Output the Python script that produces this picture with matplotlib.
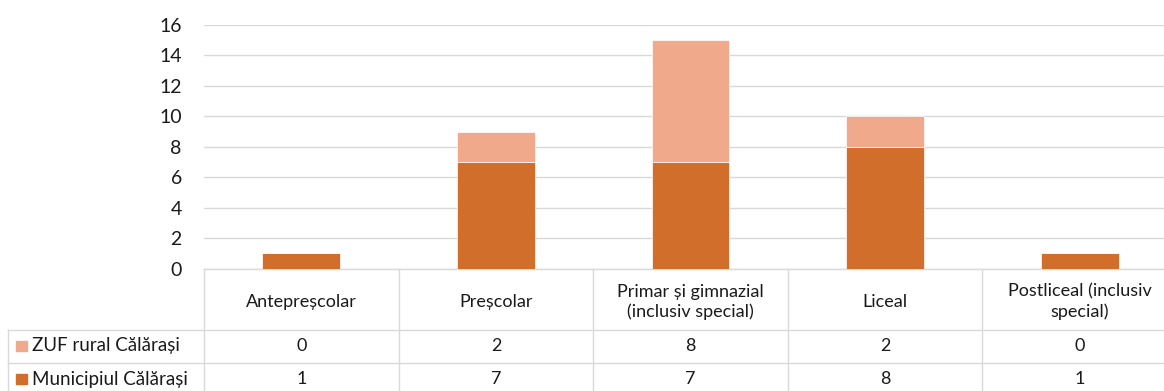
import matplotlib.pyplot as plt
from matplotlib.transforms import blended_transform_factory

plt.rcParams['font.family'] = ['Lato', 'DejaVu Sans']

categorii = ['Antepreșcolar', 'Preșcolar', 'Primar și gimnazial\n(inclusiv special)',
             'Liceal', 'Postliceal (inclusiv\nspecial)']
serii = ['ZUF rural Călărași', 'Municipiul Călărași']
zuf_rural = [0, 2, 8, 2, 0]
municipiul = [1, 7, 7, 8, 1]
yticks = [0, 2, 4, 6, 8, 10, 12, 14, 16]

c_dark = '#D26E2B'
c_light = '#F1A98B'
c_grid = '#D9D9D9'
c_text = '#1a1a1a'

W, H = 1164, 391
fig = plt.figure(figsize=(W / 100, H / 100), dpi=100)
# axes intentionally runs past the right edge (reference is cropped)
ax = fig.add_axes([204 / W, 1 - 268.5 / H, 973 / W, 243.5 / H])

x = list(range(len(categorii)))
ax.bar(x, municipiul, width=0.4, color=c_dark, edgecolor='white', linewidth=0.5, zorder=3)
ax.bar(x, zuf_rural, width=0.4, bottom=municipiul, color=c_light, edgecolor='white',
       linewidth=0.5, zorder=3)

ax.set_xlim(-0.5, len(categorii) - 0.5)
ax.set_ylim(0, 16)
ax.set_yticks(yticks)
ax.tick_params(axis='y', length=0, pad=16, labelsize=14, labelcolor=c_text)
ax.set_xticks([])
ax.grid(axis='y', color=c_grid, linewidth=1.0, zorder=0)
for s in ['top', 'right', 'left']:
    ax.spines[s].set_visible(False)
ax.spines['bottom'].set_color(c_grid)
ax.spines['bottom'].set_linewidth(1.0)

# tabel de date sub grafic (coordonate in pixeli pe y)
tab = fig.add_axes([0, 0, 1, 1], zorder=-1)
tab.set_xlim(0, W)
tab.set_ylim(H, 0)
tab.axis('off')
tr = blended_transform_factory(ax.transData, tab.transData)

row_top = [329.5, 362.5]
row_mid = [346, 379]
for i in range(len(categorii) + 1):
    tab.plot([i - 0.5, i - 0.5], [268.5, H + 5], color=c_grid, lw=1.0, transform=tr, clip_on=False)
for y in row_top:
    tab.plot([8, W + 20], [y, y], color=c_grid, lw=1.0, clip_on=False)
tab.plot([8, 8], [329.5, H + 5], color=c_grid, lw=1.0, clip_on=False)

fs = 13
for i, c in enumerate(categorii):
    tab.text(i, 302, c, transform=tr, ha='center', va='center', fontsize=fs,
             color=c_text, linespacing=1.3)
    tab.text(i, row_mid[0], str(zuf_rural[i]), transform=tr, ha='center', va='center',
             fontsize=fs, color=c_text)
    tab.text(i, row_mid[1], str(municipiul[i]), transform=tr, ha='center', va='center',
             fontsize=fs, color=c_text)

for y, nume, col in zip(row_mid, serii, [c_light, c_dark]):
    tab.add_patch(plt.Rectangle((16, y - 5.5), 10.5, 10.5, color=col))
    tab.text(32, y, nume, ha='left', va='center', fontsize=13.5, color=c_text)

fig.savefig('out.png', dpi=100)
